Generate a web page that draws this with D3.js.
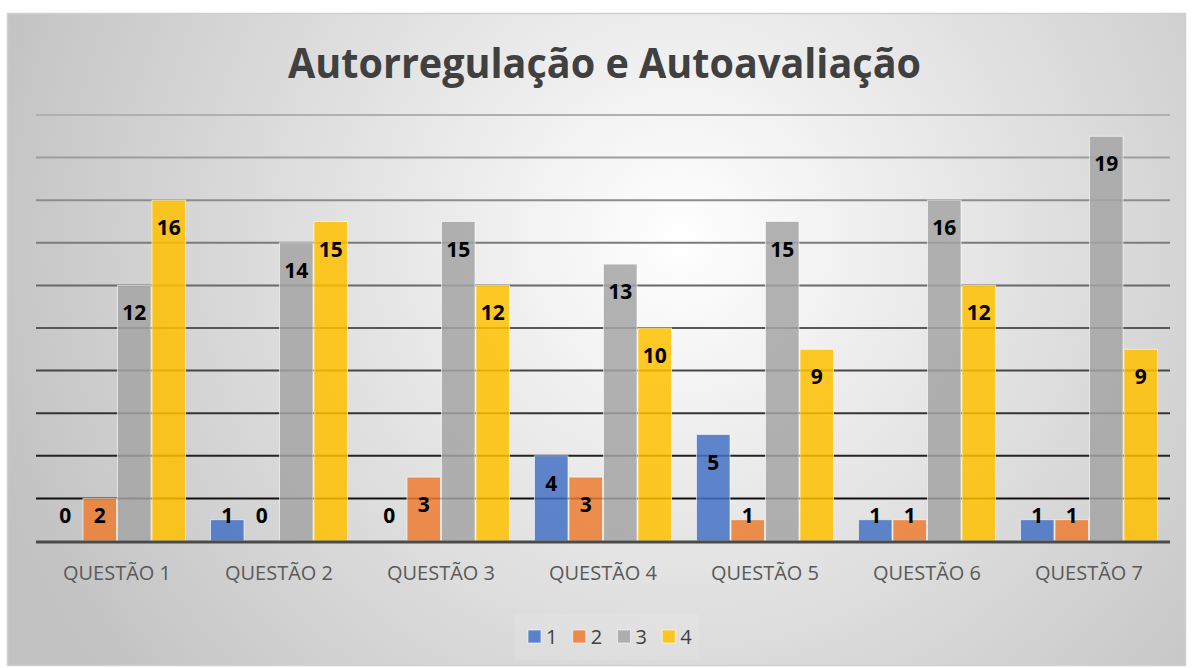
<!DOCTYPE html>
<html>
<head>
<meta charset="utf-8">
<script src="https://cdn.jsdelivr.net/npm/d3@7"></script>
<style>
  html, body { margin: 0; padding: 0; background: #fff; }
  #graph { width: 1192px; height: 668px; }
</style>
</head>
<body>
<div id="graph"></div>
<script>
// data
const categories = ["QUESTÃO 1", "QUESTÃO 2", "QUESTÃO 3", "QUESTÃO 4", "QUESTÃO 5", "QUESTÃO 6", "QUESTÃO 7"];
const series = ["1", "2", "3", "4"];
const values_1 = [0, 1, 0, 4, 5, 1, 1];
const values_2 = [2, 0, 3, 3, 1, 1, 1];
const values_3 = [12, 14, 15, 13, 15, 16, 19];
const values_4 = [16, 15, 12, 10, 9, 12, 9];
const grid_ticks = [2, 4, 6, 8, 10, 12, 14, 16, 18, 20];
const colors = ["#4472C4", "#ED7D31", "#A5A5A5", "#FFC000"];
const title = "Autorregulação e Autoavaliação";

const all_values = [values_1, values_2, values_3, values_4];

const width = 1192, height = 668;
const plot = {left: 36, right: 1170, top: 115, bottom: 541};

const svg = d3.select('#graph')
  .append('svg')
  .attr('width', width)
  .attr('height', height);

const defs = svg.append('defs');
const bg = defs.append('radialGradient')
  .attr('id', 'bg')
  .attr('gradientUnits', 'userSpaceOnUse')
  .attr('cx', 680).attr('cy', 240).attr('r', 720);
bg.append('stop').attr('offset', '0%').attr('stop-color', '#ffffff');
bg.append('stop').attr('offset', '100%').attr('stop-color', '#c2c2c2');

// chart background + border
svg.append('rect')
  .attr('x', 7.5).attr('y', 13.5)
  .attr('width', 1178).attr('height', 652)
  .attr('fill', 'url(#bg)')
  .attr('stroke', '#d0d0d0')
  .attr('stroke-width', 1.5);

const x0 = d3.scaleBand()
  .domain(categories)
  .range([plot.left, plot.right]);

const x1 = d3.scaleBand()
  .domain(series)
  .range([12, x0.bandwidth() - 12]);

const y = d3.scaleLinear()
  .domain([0, 20])
  .range([plot.bottom, plot.top]);

// gridlines get darker toward the bottom
const gridColor = d3.scaleLinear().domain([20, 2]).range(['#b0b0b0', '#111111']);
svg.append('g')
  .selectAll('line')
  .data(grid_ticks)
  .join('line')
  .attr('x1', plot.left).attr('x2', plot.right)
  .attr('y1', d => y(d)).attr('y2', d => y(d))
  .attr('stroke', d => gridColor(d))
  .attr('stroke-width', 2);

// bars
const groups = svg.append('g')
  .selectAll('g')
  .data(categories)
  .join('g')
  .attr('transform', d => `translate(${x0(d)},0)`);

groups.selectAll('rect')
  .data((c, i) => series.map((s, j) => ({s: s, j: j, v: all_values[j][i]})))
  .join('rect')
  .attr('x', d => x1(d.s) + 0.5)
  .attr('width', x1.bandwidth() - 1)
  .attr('y', d => y(d.v))
  .attr('height', d => y(0) - y(d.v))
  .attr('fill', d => colors[d.j])
  .attr('fill-opacity', 0.85)
  .attr('stroke', '#ffffff')
  .attr('stroke-opacity', 0.6)
  .attr('stroke-width', 1);

// value labels (inside end)
groups.selectAll('text')
  .data((c, i) => series.map((s, j) => ({s: s, j: j, v: all_values[j][i]})))
  .join('text')
  .attr('x', d => x1(d.s) + x1.bandwidth() / 2)
  .attr('y', d => Math.min(y(d.v) + 35, y(0) - 18))
  .attr('text-anchor', 'middle')
  .attr('font-family', 'Open Sans, sans-serif')
  .attr('font-weight', 700)
  .attr('font-size', '21px')
  .attr('fill', '#000')
  .text(d => d.v);

// baseline axis
svg.append('line')
  .attr('x1', plot.left).attr('x2', plot.right)
  .attr('y1', y(0) + 1).attr('y2', y(0) + 1)
  .attr('stroke', '#4a4a4a')
  .attr('stroke-width', 3);

// category labels
svg.append('g')
  .selectAll('text')
  .data(categories)
  .join('text')
  .attr('x', d => x0(d) + x0.bandwidth() / 2)
  .attr('y', 580)
  .attr('text-anchor', 'middle')
  .attr('font-family', 'Open Sans, sans-serif')
  .attr('font-size', '20px')
  .attr('fill', '#595959')
  .attr('textLength', 108)
  .attr('lengthAdjust', 'spacingAndGlyphs')
  .text(d => d);

// title
svg.append('text')
  .attr('x', 604.5)
  .attr('y', 78)
  .attr('text-anchor', 'middle')
  .attr('font-family', 'Open Sans, sans-serif')
  .attr('font-weight', 700)
  .attr('font-size', '42px')
  .attr('fill', '#404040')
  .attr('textLength', 633)
  .attr('lengthAdjust', 'spacingAndGlyphs')
  .text(title);

// legend
const legend = svg.append('g');
legend.append('rect')
  .attr('x', 514).attr('y', 614)
  .attr('width', 185).attr('height', 46)
  .attr('fill', '#ffffff').attr('fill-opacity', 0.1);

const legendX = d3.scaleBand().domain(series).range([528, 707]);
const items = legend.selectAll('g.item')
  .data(series)
  .join('g')
  .attr('class', 'item')
  .attr('transform', d => `translate(${legendX(d)},630)`);
items.append('rect')
  .attr('width', 13).attr('height', 13)
  .attr('fill', (d, i) => colors[i])
  .attr('fill-opacity', 0.85)
  .attr('stroke', '#ffffff')
  .attr('stroke-opacity', 0.6);
items.append('text')
  .attr('x', 18)
  .attr('y', 14)
  .attr('font-family', 'Open Sans, sans-serif')
  .attr('font-size', '20px')
  .attr('fill', '#404040')
  .text(d => d);
</script>
</body>
</html>
